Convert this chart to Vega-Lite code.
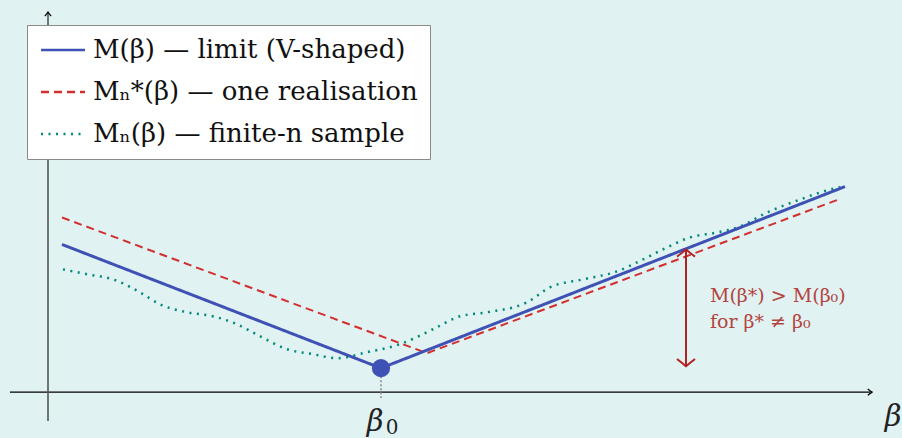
{
  "$schema": "https://vega.github.io/schema/vega-lite/v6.json",
  "width": 902,
  "height": 438,
  "autosize": {"type": "fit", "contains": "padding"},
  "padding": 0,
  "background": "#e0f2f1",
  "config": {
    "view": {"stroke": null},
    "legend": {
      "orient": "none",
      "legendX": 27,
      "legendY": 25,
      "fillColor": "white",
      "strokeColor": "#8a8a8a",
      "strokeWidth": 1,
      "padding": 12,
      "symbolType": "M-1,0H3",
      "symbolSize": 484,
      "symbolStrokeWidth": 2.5,
      "labelFont": "DejaVu Serif",
      "labelFontSize": 26,
      "labelColor": "#111111",
      "labelOffset": 28,
      "labelLimit": 0,
      "rowPadding": 16,
      "title": null
    }
  },
  "datasets": {
    "curves": [
      {"series": "M(β) — limit (V-shaped)", "x": 0.14, "y": 1.48},
      {"series": "M(β) — limit (V-shaped)", "x": 3.33, "y": 0.24},
      {"series": "M(β) — limit (V-shaped)", "x": 7.97, "y": 2.06},
      {"series": "Mₙ*(β) — one realisation", "x": 0.14, "y": 1.75},
      {"series": "Mₙ*(β) — one realisation", "x": 3.79, "y": 0.39},
      {"series": "Mₙ*(β) — one realisation", "x": 7.93, "y": 1.94},
      {"series": "Mₙ(β) — finite-n sample", "x": 0.15, "y": 1.23},
      {"series": "Mₙ(β) — finite-n sample", "x": 0.40, "y": 1.18},
      {"series": "Mₙ(β) — finite-n sample", "x": 0.65, "y": 1.13},
      {"series": "Mₙ(β) — finite-n sample", "x": 0.92, "y": 1.00},
      {"series": "Mₙ(β) — finite-n sample", "x": 1.12, "y": 0.88},
      {"series": "Mₙ(β) — finite-n sample", "x": 1.39, "y": 0.80},
      {"series": "Mₙ(β) — finite-n sample", "x": 1.65, "y": 0.76},
      {"series": "Mₙ(β) — finite-n sample", "x": 1.89, "y": 0.68},
      {"series": "Mₙ(β) — finite-n sample", "x": 2.12, "y": 0.56},
      {"series": "Mₙ(β) — finite-n sample", "x": 2.39, "y": 0.43},
      {"series": "Mₙ(β) — finite-n sample", "x": 2.65, "y": 0.38},
      {"series": "Mₙ(β) — finite-n sample", "x": 2.89, "y": 0.34},
      {"series": "Mₙ(β) — finite-n sample", "x": 3.19, "y": 0.40},
      {"series": "Mₙ(β) — finite-n sample", "x": 3.52, "y": 0.48},
      {"series": "Mₙ(β) — finite-n sample", "x": 3.85, "y": 0.63},
      {"series": "Mₙ(β) — finite-n sample", "x": 4.12, "y": 0.76},
      {"series": "Mₙ(β) — finite-n sample", "x": 4.39, "y": 0.80},
      {"series": "Mₙ(β) — finite-n sample", "x": 4.79, "y": 0.90},
      {"series": "Mₙ(β) — finite-n sample", "x": 5.02, "y": 1.05},
      {"series": "Mₙ(β) — finite-n sample", "x": 5.35, "y": 1.13},
      {"series": "Mₙ(β) — finite-n sample", "x": 5.69, "y": 1.21},
      {"series": "Mₙ(β) — finite-n sample", "x": 5.95, "y": 1.33},
      {"series": "Mₙ(β) — finite-n sample", "x": 6.19, "y": 1.45},
      {"series": "Mₙ(β) — finite-n sample", "x": 6.42, "y": 1.55},
      {"series": "Mₙ(β) — finite-n sample", "x": 6.69, "y": 1.60},
      {"series": "Mₙ(β) — finite-n sample", "x": 6.92, "y": 1.66},
      {"series": "Mₙ(β) — finite-n sample", "x": 7.19, "y": 1.80},
      {"series": "Mₙ(β) — finite-n sample", "x": 7.52, "y": 1.93},
      {"series": "Mₙ(β) — finite-n sample", "x": 7.75, "y": 2.01},
      {"series": "Mₙ(β) — finite-n sample", "x": 7.95, "y": 2.06}
    ]
  },
  "encoding": {
    "x": {"field": "x", "type": "quantitative", "scale": {"domain": [-0.48, 8.54], "nice": false, "zero": false}, "axis": null},
    "y": {"field": "y", "type": "quantitative", "scale": {"domain": [-0.45, 3.93], "nice": false, "zero": false}, "axis": null}
  },
  "layer": [
    {
      "data": {"values": [{"x": -0.38, "x2": 8.22, "y": 0}]},
      "mark": {"type": "rule", "color": "#000000", "strokeWidth": 1.3},
      "encoding": {"x2": {"field": "x2"}}
    },
    {
      "data": {"values": [{"x": 0, "y": -0.29, "y2": 3.80}]},
      "mark": {"type": "rule", "color": "#555555", "strokeWidth": 1.6},
      "encoding": {"y2": {"field": "y2"}}
    },
    {
      "data": {"values": [{"x": 8.24, "y": 0}]},
      "mark": {"type": "point", "shape": "M-1,-0.75 Q-0.35,-0.2 0,0 Q-0.35,0.2 -1,0.75", "filled": false, "stroke": "#000000", "strokeWidth": 1.3, "size": 70, "opacity": 1}
    },
    {
      "data": {"values": [{"x": 0, "y": 3.81}]},
      "mark": {"type": "point", "shape": "M-0.75,1 Q-0.2,0.35 0,0 Q0.2,0.35 0.75,1", "filled": false, "stroke": "#000000", "strokeWidth": 1.3, "size": 70, "opacity": 1}
    },
    {
      "data": {"values": [{"x": 3.33, "y": 0.24, "y2": -0.06}]},
      "mark": {"type": "rule", "color": "#8c8c8c", "strokeWidth": 1.6, "strokeDash": [2, 2]},
      "encoding": {"y2": {"field": "y2"}}
    },
    {
      "data": {"name": "curves"},
      "transform": [{"filter": "datum.series === 'Mₙ(β) — finite-n sample'"}],
      "mark": {"type": "line", "strokeWidth": 2.5, "interpolate": "monotone", "strokeCap": "butt"},
      "encoding": {
        "color": {"field": "series", "type": "nominal", "scale": {"domain": ["M(β) — limit (V-shaped)", "Mₙ*(β) — one realisation", "Mₙ(β) — finite-n sample"], "range": ["#3f51b5", "#d32f2f", "#00897b"]}, "legend": {"symbolType": "M-1,0H3"}},
        "strokeDash": {"field": "series", "type": "nominal", "scale": {"domain": ["M(β) — limit (V-shaped)", "Mₙ*(β) — one realisation", "Mₙ(β) — finite-n sample"], "range": [[1, 0], [8, 5], [2, 5.5]]}, "legend": {"symbolType": "M-1,0H3"}}
      }
    },
    {
      "data": {"name": "curves"},
      "transform": [{"filter": "datum.series === 'Mₙ*(β) — one realisation'"}],
      "mark": {"type": "line", "strokeWidth": 2, "interpolate": "linear"},
      "encoding": {
        "color": {"field": "series", "type": "nominal"},
        "strokeDash": {"field": "series", "type": "nominal"}
      }
    },
    {
      "data": {"name": "curves"},
      "transform": [{"filter": "datum.series === 'M(β) — limit (V-shaped)'"}],
      "mark": {"type": "line", "strokeWidth": 3, "interpolate": "linear"},
      "encoding": {
        "color": {"field": "series", "type": "nominal"},
        "strokeDash": {"field": "series", "type": "nominal"}
      }
    },
    {
      "data": {"values": [{"x": 3.33, "y": 0.24}]},
      "mark": {"type": "point", "shape": "circle", "filled": true, "color": "#3f51b5", "size": 330, "opacity": 1}
    },
    {
      "data": {"values": [{"x": 6.38, "y": 1.43, "y2": 0.26}]},
      "mark": {"type": "rule", "color": "#b22222", "strokeWidth": 2},
      "encoding": {"y2": {"field": "y2"}}
    },
    {
      "data": {"values": [{"x": 6.38, "y": 1.43}]},
      "mark": {"type": "point", "shape": "M-1,0.8 Q-0.3,0.25 0,0 Q0.3,0.25 1,0.8", "filled": false, "stroke": "#b22222", "strokeWidth": 2, "size": 324, "opacity": 1}
    },
    {
      "data": {"values": [{"x": 6.38, "y": 0.26}]},
      "mark": {"type": "point", "shape": "M-1,-0.8 Q-0.3,-0.25 0,0 Q0.3,-0.25 1,-0.8", "filled": false, "stroke": "#b22222", "strokeWidth": 2, "size": 324, "opacity": 1}
    },
    {
      "data": {"values": [{"x": 6.62, "y": 0.96, "label": "M(β*) > M(β₀)"}, {"x": 6.62, "y": 0.70, "label": "for β* ≠ β₀"}]},
      "mark": {"type": "text", "align": "left", "baseline": "middle", "font": "DejaVu Serif", "fontSize": 19, "color": "#b5443f"},
      "encoding": {"text": {"field": "label"}}
    },
    {
      "data": {"values": [{"x": 3.27, "y": -0.385, "label": "β"}, {"x": 8.45, "y": -0.34, "label": "β"}]},
      "mark": {"type": "text", "align": "center", "baseline": "alphabetic", "font": "DejaVu Serif", "fontStyle": "italic", "fontSize": 29, "color": "#222222"},
      "encoding": {"text": {"field": "label"}}
    },
    {
      "data": {"values": [{"x": 3.44, "y": -0.415, "label": "0"}]},
      "mark": {"type": "text", "align": "center", "baseline": "alphabetic", "font": "DejaVu Serif", "fontSize": 20, "color": "#222222"},
      "encoding": {"text": {"field": "label"}}
    }
  ]
}
